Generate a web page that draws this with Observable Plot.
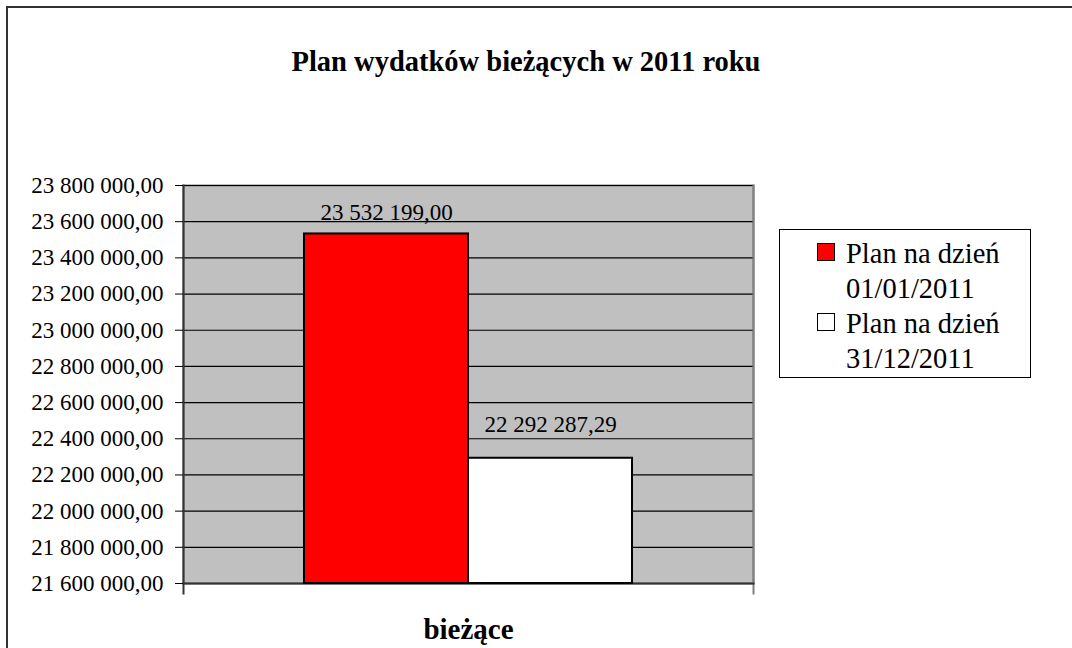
<!DOCTYPE html>
<html><head><meta charset="utf-8">
<script src="https://cdn.jsdelivr.net/npm/d3@7"></script>
<script src="https://cdn.jsdelivr.net/npm/@observablehq/plot@0.6"></script>
<style>
body{margin:0;background:#fff;font-family:"Liberation Serif","Times New Roman",serif;}
#wrap{position:relative;width:1072px;height:648px;overflow:hidden;background:#fff;}
#border{position:absolute;left:6px;top:6px;width:1200px;height:800px;border:2px solid #333;box-sizing:border-box;}
#chart{position:absolute;left:0;top:0;}
#chart svg, #chart svg text{font-family:"Liberation Serif","Times New Roman",serif !important;font-variant:normal !important;}
#title{position:absolute;left:0;top:48px;width:1052px;text-align:center;font-weight:bold;font-size:28.5px;line-height:28.5px;color:#000;white-space:nowrap;}
#legend{position:absolute;left:779px;top:229px;width:252px;height:149px;border:1px solid #000;box-sizing:border-box;background:#fff;}
.item{position:absolute;left:0;}
.sw{position:absolute;left:37px;width:18px;height:18px;border:1.5px solid #000;box-sizing:border-box;}
.txt{position:absolute;left:66px;font-size:28.5px;line-height:35px;white-space:nowrap;color:#000;}
</style>
</head><body>
<div id="wrap">
  <div id="border"></div>
  <div id="chart"></div>
  <div id="title"></div>
  <div id="legend"></div>
</div>
<script>
const title = "Plan wydatków bieżących w 2011 roku";
const category = "bieżące";
const series = ["Plan na dzień 01/01/2011", "Plan na dzień 31/12/2011"];
const legendLines = [["Plan na dzień", "01/01/2011"], ["Plan na dzień", "31/12/2011"]];
const values = [23532199.00, 22292287.29];
const colors = ["#ff0000", "#ffffff"];
const yTicks = [21600000, 21800000, 22000000, 22200000, 22400000, 22600000, 22800000, 23000000, 23200000, 23400000, 23600000, 23800000];
const yMin = 21600000;
const yMax = 23800000;

const data = series.map((s, i) => ({series: s, value: values[i], category}));
const locale = d3.formatLocale({decimal: ",", thousands: " ", grouping: [3], currency: ["", ""]});
const fmt = locale.format(",.2f");
const serif = "Liberation Serif";

document.getElementById("title").textContent = title;

const plot = Plot.plot({
  width: 1072,
  height: 648,
  marginLeft: 183,
  marginRight: 319,
  marginTop: 185,
  marginBottom: 65,
  style: {fontFamily: serif, fontSize: "24px", background: "transparent", overflow: "visible", color: "#000"},
  x: {type: "band", domain: series, paddingInner: 0, paddingOuter: 0.733, axis: null},
  y: {domain: [yMin, yMax], axis: null},
  color: {domain: series, range: colors, legend: false},
  marks: [
    Plot.frame({fill: "#c0c0c0", stroke: "#808080", strokeWidth: 2}),
    Plot.ruleY(yTicks, {stroke: "#000", strokeWidth: 1.2}),
    Plot.frame({anchor: "left", stroke: "#333", strokeWidth: 2, insetBottom: -10}),
    Plot.frame({anchor: "right", stroke: "#808080", strokeWidth: 2, insetBottom: -10}),
    Plot.frame({anchor: "bottom", stroke: "#333", strokeWidth: 2}),
    Plot.axisY({ticks: yTicks, tickSize: 8, tickPadding: 12, tickFormat: fmt, label: null, fontSize: 23, fontFamily: serif, fontVariant: "normal", stroke: "#000"}),
    Plot.barY(data, {x: "series", y1: yMin, y2: "value", fill: "series", stroke: "#000", strokeWidth: 2}),
    Plot.text(data.slice(0, 1), {x: "series", y: "value", text: d => fmt(d.value), lineAnchor: "middle", dy: -21.5, fontSize: 23, fontFamily: serif, fill: "#000"}),
    Plot.text(data.slice(1), {x: "series", y: "value", text: d => fmt(d.value), lineAnchor: "middle", dy: -33.5, fontSize: 23, fontFamily: serif, fill: "#000"}),
    Plot.text([category], {frameAnchor: "bottom", lineAnchor: "middle", text: d => d, dy: 46, fontSize: 29, fontWeight: "bold", fontFamily: serif, fill: "#000"})
  ]
});
document.getElementById("chart").appendChild(plot);

const legend = document.getElementById("legend");
legendLines.forEach((lines, i) => {
  const item = document.createElement("div");
  item.className = "item";
  item.style.top = (i * 70) + "px";
  const sw = document.createElement("div");
  sw.className = "sw";
  sw.style.top = "13px";
  sw.style.background = colors[i];
  const txt = document.createElement("div");
  txt.className = "txt";
  txt.style.top = "6px";
  txt.innerHTML = lines.join("<br>");
  item.appendChild(sw);
  item.appendChild(txt);
  legend.appendChild(item);
});
</script>
</body></html>
